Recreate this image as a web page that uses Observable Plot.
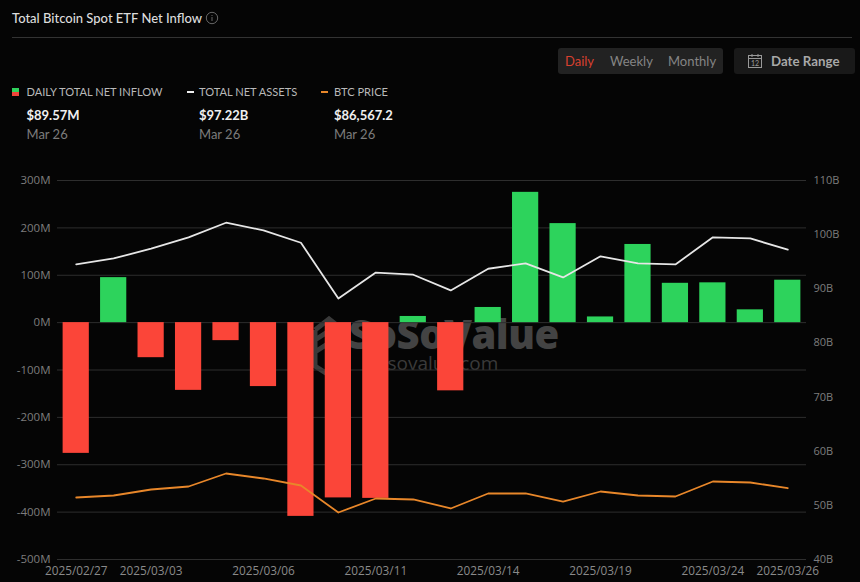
<!DOCTYPE html>
<html><head><meta charset="utf-8">
<script src="https://cdn.jsdelivr.net/npm/d3@7"></script>
<script src="https://cdn.jsdelivr.net/npm/@observablehq/plot@0.6"></script>
<style>
html,body{margin:0;padding:0;background:#050505;width:860px;height:582px;overflow:hidden;font-family:Lato,sans-serif}
.abs{position:absolute;white-space:nowrap}
#chart{position:absolute;left:0;top:170px}
.lab{font-size:11.1px;color:#b9b9b9;line-height:14px}
.val{font-size:13px;font-weight:700;color:#f0f0f0;line-height:16px}
.dt{font-size:13px;color:#7c7c7c;line-height:16px}
</style></head><body>
<div class="abs" style="left:12px;top:10px;font-size:13px;line-height:16px;color:#dcdcdc;font-weight:500">Total Bitcoin Spot ETF Net Inflow</div>
<svg class="abs" style="left:205px;top:11px" width="14" height="14" viewBox="0 0 14 14"><circle cx="7" cy="7" r="5.7" fill="none" stroke="#666" stroke-width="1"/><path d="M7 6v4M7 4v1" stroke="#666" stroke-width="1"/></svg>
<div class="abs" style="left:12px;top:36.5px;width:840px;height:1px;background:#333"></div>
<div class="abs" style="left:558px;top:48px;width:165px;height:26px;background:#222;border-radius:3px"></div>
<div class="abs" style="left:565px;top:53px;font-size:13px;line-height:16px;color:#d8402f">Daily</div>
<div class="abs" style="left:610px;top:53px;font-size:13px;line-height:16px;color:#858585">Weekly</div>
<div class="abs" style="left:668px;top:53px;font-size:13px;line-height:16px;color:#858585">Monthly</div>
<div class="abs" style="left:734px;top:48px;width:121px;height:26px;background:#191919;border-radius:3px"></div>
<svg class="abs" style="left:747px;top:53px" width="16" height="16" viewBox="0 0 16 16"><rect x="1.5" y="2.5" width="13" height="12" fill="none" stroke="#999"/><path d="M1.5 5.5h13M5 1v3M11 1v3" stroke="#999"/><text x="8" y="13" font-size="7" fill="#999" text-anchor="middle" font-family="Lato">12</text></svg>
<div class="abs" style="left:771px;top:53px;font-size:13.3px;line-height:16px;color:#a8a8a8;font-weight:700">Date Range</div>

<div class="abs" style="left:12px;top:88px;width:7px;height:4px;background:#2fd25c"></div>
<div class="abs" style="left:12px;top:92px;width:7px;height:4px;background:#f0453a"></div>
<div class="abs lab" style="left:26.5px;top:85px">DAILY TOTAL NET INFLOW</div>
<div class="abs val" style="left:26.5px;top:107px">$89.57M</div>
<div class="abs dt" style="left:26.5px;top:126px">Mar 26</div>
<div class="abs" style="left:187px;top:91px;width:7px;height:2px;background:#eee"></div>
<div class="abs lab" style="left:199px;top:85px">TOTAL NET ASSETS</div>
<div class="abs val" style="left:199px;top:107px">$97.22B</div>
<div class="abs dt" style="left:199px;top:126px">Mar 26</div>
<div class="abs" style="left:321px;top:91px;width:7px;height:2px;background:#e8872a"></div>
<div class="abs lab" style="left:334px;top:85px">BTC PRICE</div>
<div class="abs val" style="left:334px;top:107px">$86,567.2</div>
<div class="abs dt" style="left:334px;top:126px">Mar 26</div>

<svg class="abs" style="left:313px;top:316px" width="32" height="60" viewBox="0 0 32 60"><path d="M2 14 16 3 30 14M2 14v36l14 9 14-9M2 24l14-9 14 9M2 36l14-9 14 9" fill="none" stroke="#3a3a3a" stroke-width="5"/></svg>
<div class="abs" style="left:349px;top:319px;font-size:40px;line-height:30px;font-weight:800;letter-spacing:-0.5px;color:#434343;font-family:'Open Sans',sans-serif">SoSoValue</div>
<div class="abs" style="left:367px;top:351.5px;font-size:19px;line-height:22px;color:#3a3a3a;font-family:'Open Sans',sans-serif">sosovalue.com</div>
<div id="chart"></div>
<script>
const dates = ["2025/02/27","2025/02/28","2025/03/03","2025/03/04","2025/03/05","2025/03/06","2025/03/07","2025/03/10","2025/03/11","2025/03/12","2025/03/13","2025/03/14","2025/03/17","2025/03/18","2025/03/19","2025/03/20","2025/03/21","2025/03/24","2025/03/25","2025/03/26"];
const inflowM = [-276,95,-74,-143,-38,-135,-409,-370,-371,13,-144,32,275,209,12,165,83,84,27,89.57];
const assetsB = [94.5,95.6,97.4,99.5,102.2,100.8,98.5,88.2,93,92.6,89.7,93.7,94.7,92.1,96,94.7,94.5,99.5,99.3,97.22];
const btcPrice = [83630,84260,86160,87110,91230,89650,87430,78880,83310,83000,80150,84900,84900,82360,85530,84260,83950,88700,88380,86567.2];
const xTickLabels = ["2025/02/27","2025/03/03","2025/03/06","2025/03/11","2025/03/14","2025/03/19","2025/03/24","2025/03/26"];
const leftTicks = [-500,-400,-300,-200,-100,0,100,200,300];
const rightTicks = [40,50,60,70,80,90,100,110];

const assetToY = b => (b-40)*800/70-500;
const yToAsset = m => (m+500)*70/800+40;
const btcToY = p => (p-64000)*800/120000-500;
const rows = dates.map((d,i)=>({d,inflow:inflowM[i],assets:assetToY(assetsB[i]),btc:btcToY(btcPrice[i])}));

const font = "'Open Sans',sans-serif";
const plot = Plot.plot({
  width:860,height:412,marginTop:10,marginBottom:23,marginLeft:57,marginRight:54,
  style:{background:"transparent",fontFamily:font,fontSize:"11.5px",color:"#7d7d7d"},
  x:{type:"band",domain:dates,paddingInner:0.3,paddingOuter:0.15,round:false,label:null},
  y:{domain:[-500,300],label:null},
  marks:[
    Plot.ruleY(leftTicks,{stroke:"#2e2e2e",strokeWidth:1}),
    Plot.barY(rows,{x:"d",y:"inflow",fill:d=>d.inflow>=0?"#2dd35c":"#fb4539"}),
    Plot.line(rows,{x:"d",y:"assets",stroke:"#e6e6e6",strokeWidth:1.8,curve:"linear"}),
    Plot.line(rows,{x:"d",y:"btc",stroke:"#e8872a",strokeWidth:1.8,curve:"linear"}),
    Plot.axisY({anchor:"left",ticks:leftTicks,tickSize:0,tickPadding:7,label:null,tickFormat:d=>d+"M",stroke:"none",fill:"#7d7d7d"}),
    Plot.axisY({anchor:"right",ticks:rightTicks.map(assetToY),tickSize:0,tickPadding:7,label:null,tickFormat:m=>Math.round(yToAsset(m))+"B",stroke:"none",fill:"#7d7d7d",fontSize:11}),
    Plot.axisX({ticks:xTickLabels,tickSize:0,tickPadding:7,label:null,stroke:"none",fill:"#8a8a8a",fontSize:11.8})
  ]
});
document.getElementById("chart").appendChild(plot);
</script>
</body></html>
